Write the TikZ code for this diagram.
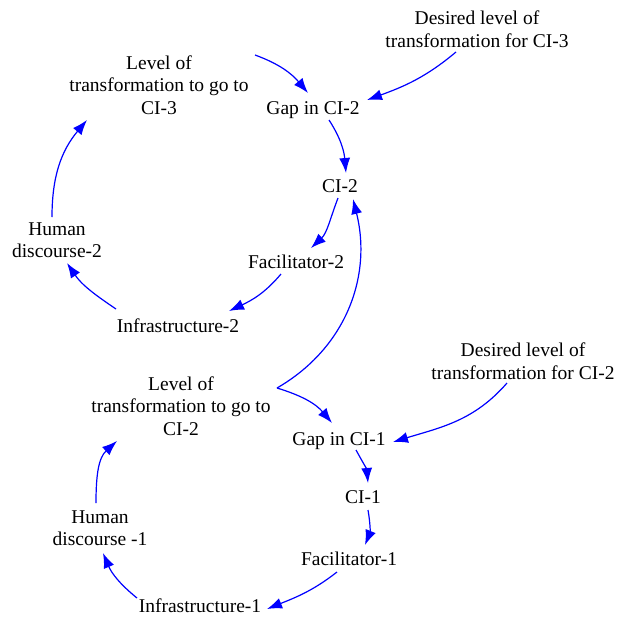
\documentclass[tikz,border=0pt]{standalone}
\usepackage{fontspec}
\setmainfont{Liberation Serif}
\usetikzlibrary{arrows.meta}
\definecolor{arrowblue}{RGB}{0,0,255}
\tikzset{
  lbl/.style={font=\fontsize{19.5}{22.5}\selectfont, inner sep=0pt, align=center},
  one/.style={font=\fontsize{19.5}{22.5}\selectfont, inner sep=0pt, text height=13.5pt, text depth=4.5pt},
  arr/.style={draw=arrowblue, line width=1.2pt, -{Latex[length=15pt,width=11pt]}}
}
\begin{document}
\begin{tikzpicture}[x=1pt,y=1pt]
\useasboundingbox (0,0) rectangle (624,-616);
% nodes
\node[lbl] (L3) at (159,-85) {Level of\\transformation to go to\\CI-3};
\node[one] (gap2) at (313,-109.5) {Gap in CI-2};
\node[lbl] (d3) at (477,-29.4) {Desired level of\\transformation for CI-3};
\node[one] (ci2) at (340,-187.5) {CI-2};
\node[one] (fac2) at (296,-263.5) {Facilitator-2};
\node[one] (inf2) at (178,-327.5) {Infrastructure-2};
\node[lbl] (hd2) at (57,-240) {Human\\discourse-2};
\node[lbl] (L2) at (181,-406) {Level of\\transformation to go to\\CI-2};
\node[lbl] (d2) at (523,-361) {Desired level of\\transformation for CI-2};
\node[one] (gap1) at (339,-440.5) {Gap in CI-1};
\node[one] (ci1) at (363,-498.5) {CI-1};
\node[one] (fac1) at (349,-560.5) {Facilitator-1};
\node[one] (inf1) at (200,-607.5) {Infrastructure-1};
\node[lbl] (hd1) at (100,-528) {Human\\discourse -1};
% connectors
\draw[arr] ([shift={(96,30)}]L3.center) to[out=-20,in=130] ([shift={(-5,16.5)}]gap2.center);
\draw[arr] ([shift={(-21,-22.6)}]d3.center) to[out=220,in=20] ([shift={(54,9.5)}]gap2.center);
\draw[arr] ([shift={(16,-10.5)}]gap2.center) to[out=-57,in=95] ([shift={(6,14.5)}]ci2.center);
\draw[arr] ([shift={(-2,-10.5)}]ci2.center) to[out=249,in=43] ([shift={(15,15.5)}]fac2.center);
\draw[arr] ([shift={(-15,-10.5)}]fac2.center) to[out=230,in=25] ([shift={(51,16.5)}]inf2.center);
\draw[arr] ([shift={(-62,18.5)}]inf2.center) to[out=146,in=-56] ([shift={(10,-23)}]hd2.center);
\draw[arr] ([shift={(-5,23)}]hd2.center) to[out=90,in=-130] ([shift={(-72,-35)}]L3.center);
\draw[arr] ([shift={(96,18)}]L2.center) to[out=30,in=-76] ([shift={(13,-11.5)}]ci2.center);
\draw[arr] ([shift={(96,18)}]L2.center) to[out=-17,in=130] ([shift={(-7,17.5)}]gap1.center);
\draw[arr] ([shift={(-16,-22)}]d2.center) to[out=229,in=17] ([shift={(54,-1.5)}]gap1.center);
\draw[arr] ([shift={(17,-9.5)}]gap1.center) to[out=-61,in=95] ([shift={(5,15.5)}]ci1.center);
\draw[arr] ([shift={(5,-11.5)}]ci1.center) to[out=-80,in=68] ([shift={(16,15.5)}]fac1.center);
\draw[arr] ([shift={(-12,-11.5)}]fac1.center) to[out=218,in=22] ([shift={(67,-1.5)}]inf1.center);
\draw[arr] ([shift={(-63,9.5)}]inf1.center) to[out=141,in=-67] ([shift={(3,-25)}]hd1.center);
\draw[arr] ([shift={(-4,25)}]hd1.center) to[out=90,in=-138] ([shift={(-64,-35)}]L2.center);
\end{tikzpicture}
\end{document}
